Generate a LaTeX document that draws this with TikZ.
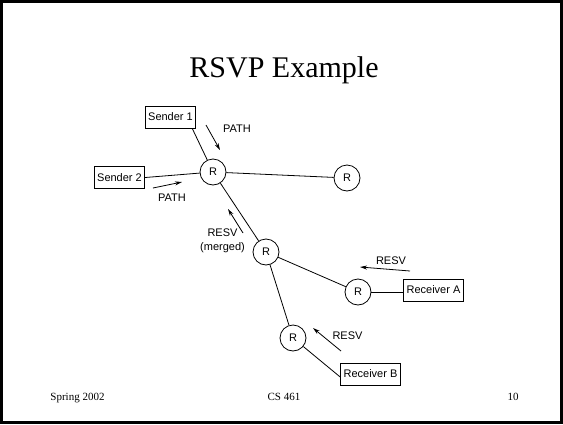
\documentclass[tikz,border=0pt]{standalone}
\usepackage{fontspec}
\setmainfont{Liberation Serif}
\setsansfont{Liberation Sans}
\usetikzlibrary{arrows.meta,calc}
\begin{document}
\begin{tikzpicture}[x=1pt,y=-1pt,
  lbl/.style={font=\sffamily\fontsize{11}{13}\selectfont, inner sep=0pt},
  hostbox/.style={draw, line width=0.8pt, font=\sffamily\fontsize{11}{13}\selectfont, inner xsep=3pt, inner ysep=0pt, minimum height=22pt},
  router/.style={draw, circle, line width=0.8pt, minimum size=26pt, inner sep=0pt, font=\sffamily\fontsize{11}{13}\selectfont},
  link/.style={line width=0.8pt},
  msg/.style={line width=0.8pt, -{Stealth[length=7pt,width=4pt]}},
  foot/.style={font=\fontsize{11}{13}\selectfont, anchor=base, inner sep=0pt}]
\useasboundingbox (0,0) rectangle (563,424);
\draw[line width=2.6pt] (1.5,1.5) rectangle (561.5,422.2);
% title and footer
\node[anchor=base, inner sep=0pt, font=\fontsize{30}{34}\selectfont] (title) at (284,77) {RSVP Example};
\node[foot] (f1) at (77.5,400) {Spring 2002};
\node[foot] (f2) at (284,400) {CS 461};
\node[foot] (f3) at (513,400) {10};
% hosts
\node[hostbox] (S1) at (170.5,117) {Sender 1};
\node[hostbox] (S2) at (119.5,177.5) {Sender 2};
\node[hostbox] (RA) at (433.5,290) {Receiver A};
\node[hostbox] (RB) at (370.5,374) {Receiver B};
% routers
\node[router] (R1) at (213,172) {R};
\node[router] (R5) at (347,178) {R};
\node[router] (R2) at (266,252) {R};
\node[router] (R3) at (358,292) {R};
\node[router] (R4) at (293,338) {R};
% links
\draw[link] (R1) -- ([xshift=-4pt]S1.south east);
\draw[link] (S2.east) -- (R1);
\draw[link] (R1) -- (R5);
\draw[link] (R1) -- (R2);
\draw[link] (R2) -- (R3);
\draw[link] (R3) -- (R3 -| RA.west);
\draw[link] (R2) -- (R4);
\draw[link] (R4) -- ([yshift=-3pt]RB.west);
% message arrows
\coordinate (p1a) at (206,125); \coordinate (p1b) at (220,150);
\coordinate (p2a) at (153,188); \coordinate (p2b) at (182,182);
\coordinate (m1a) at (243,233); \coordinate (m1b) at (228,209);
\coordinate (m2a) at (410,271); \coordinate (m2b) at (360,267);
\coordinate (m3a) at (341,351); \coordinate (m3b) at (313,328);
\draw[msg] (p1a) -- (p1b);
\draw[msg] (p2a) -- (p2b);
\draw[msg] (m1a) -- (m1b);
\draw[msg] (m2a) -- (m2b);
\draw[msg] (m3a) -- (m3b);
% labels
\node[lbl] (L1) at (237,129) {PATH};
\node[lbl] (L2) at (172,197.5) {PATH};
\node[lbl, align=center] (L3) at (222.5,240.5) {RESV\\[1pt](merged)};
\node[lbl] (L4) at (391,261) {RESV};
\node[lbl] (L5) at (347.5,336) {RESV};
\end{tikzpicture}
\end{document}
